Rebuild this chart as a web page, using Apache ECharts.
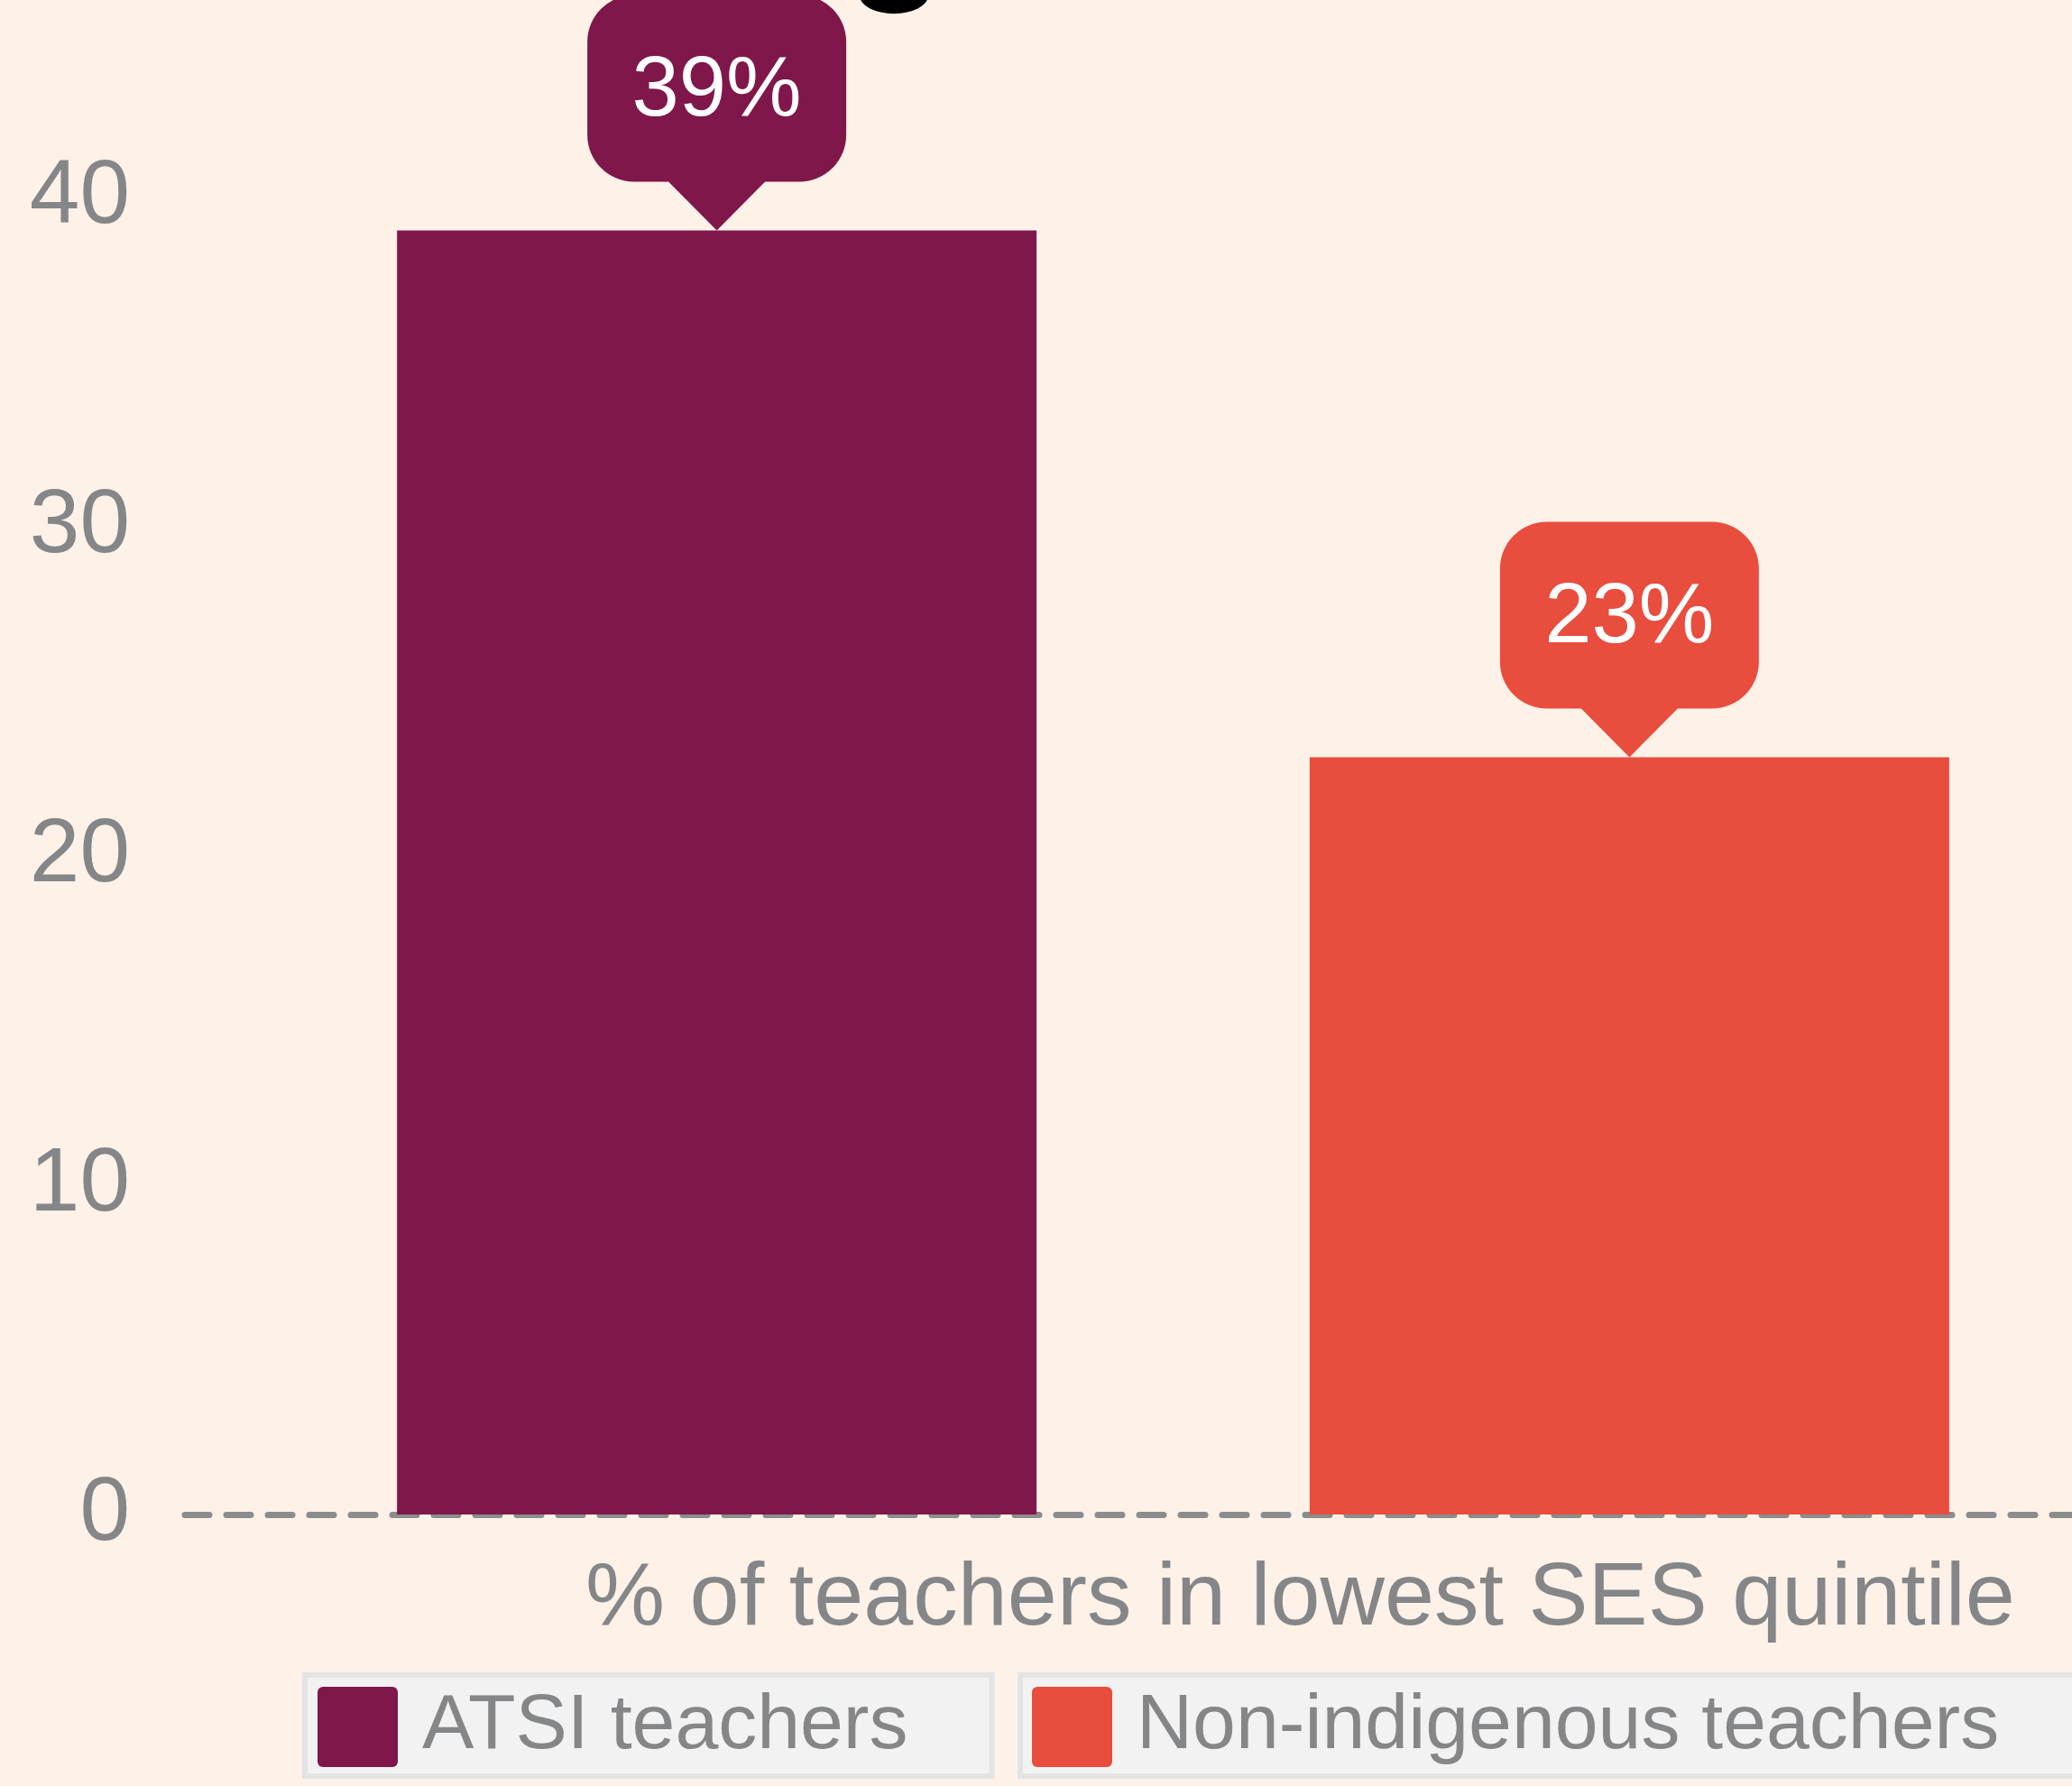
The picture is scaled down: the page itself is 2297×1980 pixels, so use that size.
<!DOCTYPE html>
<html>
<head>
<meta charset="utf-8">
<script src="https://cdn.jsdelivr.net/npm/echarts@6/dist/echarts.min.js"></script>
<style>
  html, body { margin: 0; padding: 0; background: #FDF1E8; }
  #chart { width: 2297px; height: 1980px; }
</style>
</head>
<body>
<div id="chart"></div>
<script>
const categories = ['% of teachers in lowest SES quintile']
const seriesNames = ['ATSI teachers', 'Non-indigenous teachers']
const atsiValues = [39]
const nonIndigenousValues = [23]
const yTicks = { min: 0, max: 50, interval: 10 }

const colors = ['#7F174A', '#E84D3D']
const grey = '#848688'
const font = '"Liberation Sans", Arial, sans-serif'

// callout: rounded box 287x207 with a pointer 54 tall underneath
const calloutPath =
  'path://M52,0 H235 A52,52 0 0 1 287,52 V155 A52,52 0 0 1 235,207 H197 L143.5,261 L90,207 H52 A52,52 0 0 1 0,155 V52 A52,52 0 0 1 52,0 Z'
const legendIcon =
  'path://M6,0 H83 A6,6 0 0 1 89,6 V83 A6,6 0 0 1 83,89 H6 A6,6 0 0 1 0,83 V6 A6,6 0 0 1 6,0 Z'

const chart = echarts.init(document.getElementById('chart'))

const makeSeries = (name, values, color) => ({
  name,
  type: 'bar',
  data: values,
  barWidth: 709,
  barGap: '42.7%',
  itemStyle: { color },
  markPoint: {
    data: [{ type: 'max' }],
    symbol: calloutPath,
    symbolSize: [287, 261],
    symbolOffset: [0, -130.5],
    itemStyle: { color },
    label: {
      show: true,
      position: 'inside',
      offset: [0, -23],
      formatter: '{c}%',
      color: '#FFFFFF',
      fontSize: 94,
      fontFamily: font
    }
  }
})

const makeLegend = (name, left, padding) => ({
  data: [name],
  left,
  top: 1857,
  orient: 'horizontal',
  icon: legendIcon,
  itemWidth: 89,
  itemHeight: 89,
  padding,
  backgroundColor: '#F2F2F2',
  borderColor: '#E4E4E4',
  borderWidth: 6,
  borderRadius: 0,
  selectedMode: false,
  textStyle: {
    color: grey,
    fontSize: 86,
    fontFamily: font,
    padding: [0, 0, 0, 22]
  }
})

chart.setOption({
  backgroundColor: '#FDF1E8',
  animation: false,
  grid: {
    left: 205,
    right: -99,
    top: -146,
    bottom: 301,
    outerBoundsMode: 'none',
    containLabel: false
  },
  legend: [
    makeLegend(seriesNames[0], 338, [13, 93, 10, 14]),
    makeLegend(seriesNames[1], 1131, [13, 93, 10, 13])
  ],
  xAxis: {
    type: 'category',
    data: categories,
    axisLine: {
      show: true,
      lineStyle: { color: '#8C8C8C', width: 7, type: [27, 19] }
    },
    axisTick: { show: false },
    axisLabel: {
      color: grey,
      fontSize: 99,
      fontFamily: font,
      margin: 45,
      padding: [0, 0, 0, 282]
    }
  },
  yAxis: {
    type: 'value',
    min: yTicks.min,
    max: yTicks.max,
    interval: yTicks.interval,
    axisLine: { show: false },
    axisTick: { show: false },
    splitLine: { show: false },
    axisLabel: {
      color: grey,
      fontSize: 100,
      fontFamily: font,
      margin: 61,
      padding: [12, 0, 0, 0]
    }
  },
  graphic: [
    {
      type: 'circle',
      x: 991,
      y: -5,
      scaleY: 0.53,
      shape: { cx: 0, cy: 0, r: 38 },
      style: { fill: '#000000' }
    }
  ],
  series: [
    makeSeries(seriesNames[0], atsiValues, colors[0]),
    makeSeries(seriesNames[1], nonIndigenousValues, colors[1])
  ]
})
</script>
</body>
</html>
